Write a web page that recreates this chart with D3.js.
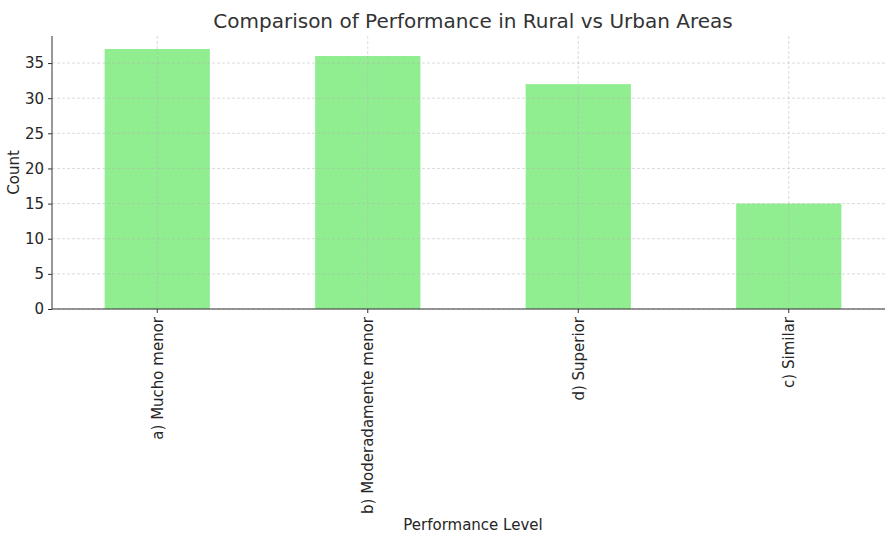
<!DOCTYPE html>
<html>
<head>
<meta charset="utf-8">
<script src="https://cdn.jsdelivr.net/npm/d3@7"></script>
<style>
  body { margin: 0; background: #fff; }
  svg { font-family: "DejaVu Sans", sans-serif; }
  .grid line { stroke: #b0b0b0; stroke-opacity: 0.6; stroke-dasharray: 3,2; stroke-width: 0.8; }
  .axis path, .axis line { stroke: #333; }
</style>
</head>
<body>
<svg class="chart"></svg>
<script>
// chart data
var categories = ["a) Mucho menor", "b) Moderadamente menor", "d) Superior", "c) Similar"];
var counts = [37, 36, 32, 15];
var yTicks = [0, 5, 10, 15, 20, 25, 30, 35];

var margin = {top: 36, right: -9, bottom: 225, left: 52},
    width = 885 - margin.left - margin.right,
    height = 534 - margin.top - margin.bottom;

var svg = d3.select(".chart")
    .attr("width", 885)
    .attr("height", 534);

var g = svg.append("g")
    .attr("transform", "translate(" + margin.left + "," + margin.top + ")");

// SCALES
var x = d3.scaleBand()
    .domain(categories)
    .range([0, width])
    .paddingInner(0.5)
    .paddingOuter(0.25);

var y = d3.scaleLinear()
    .domain([0, d3.max(counts) * 1.05])
    .range([height, 0]);

// BARS
g.selectAll(".bar").data(counts)
  .enter().append("rect")
    .attr("class", "bar")
    .attr("x", function(d, i) { return x(categories[i]); })
    .attr("width", x.bandwidth())
    .attr("y", function(d) { return y(d); })
    .attr("height", function(d) { return height - y(d); })
    .attr("fill", "#90ee90");

// GRID (drawn on top like the original)
g.append("g")
    .attr("class", "grid")
    .selectAll("line.h").data(yTicks)
  .enter().append("line")
    .attr("x1", 0).attr("x2", width)
    .attr("y1", function(d) { return y(d); })
    .attr("y2", function(d) { return y(d); });

g.select(".grid").selectAll("line.v").data(categories)
  .enter().append("line")
    .attr("class", "v")
    .attr("x1", function(d) { return x(d) + x.bandwidth() / 2; })
    .attr("x2", function(d) { return x(d) + x.bandwidth() / 2; })
    .attr("y1", 0).attr("y2", height);

// AXES
var yAxis = d3.axisLeft(y).tickValues(yTicks).tickSize(4).tickPadding(4);
g.append("g")
    .attr("class", "axis")
    .call(yAxis)
    .attr("font-size", 15)
    .attr("font-family", "DejaVu Sans, sans-serif")
    .call(function(s) { s.select(".domain").attr("d", "M0," + height + "V0"); })
    .selectAll("text").attr("fill", "#262626");

var xAxis = d3.axisBottom(x).tickSize(4).tickPadding(4);
g.append("g")
    .attr("class", "axis")
    .attr("transform", "translate(0," + height + ")")
    .call(xAxis)
    .attr("font-size", 15)
    .attr("font-family", "DejaVu Sans, sans-serif")
    .call(function(s) { s.select(".domain").attr("d", "M0,0H" + width); })
  .selectAll("text")
    .attr("fill", "#262626")
    .attr("transform", "rotate(-90)")
    .attr("x", -8)
    .attr("y", 0)
    .attr("dy", "0.35em")
    .style("text-anchor", "end");

// TITLE AND LABELS
svg.append("text")
    .attr("x", 473)
    .attr("y", 28)
    .attr("text-anchor", "middle")
    .attr("fill", "#333")
    .style("font-size", "20px")
    .text("Comparison of Performance in Rural vs Urban Areas");

svg.append("text")
    .attr("transform", "translate(19," + (margin.top + height / 2) + ") rotate(-90)")
    .attr("text-anchor", "middle")
    .attr("fill", "#262626")
    .style("font-size", "15px")
    .text("Count");

svg.append("text")
    .attr("x", 473)
    .attr("y", 530)
    .attr("text-anchor", "middle")
    .attr("fill", "#262626")
    .style("font-size", "15px")
    .text("Performance Level");
</script>
</body>
</html>
